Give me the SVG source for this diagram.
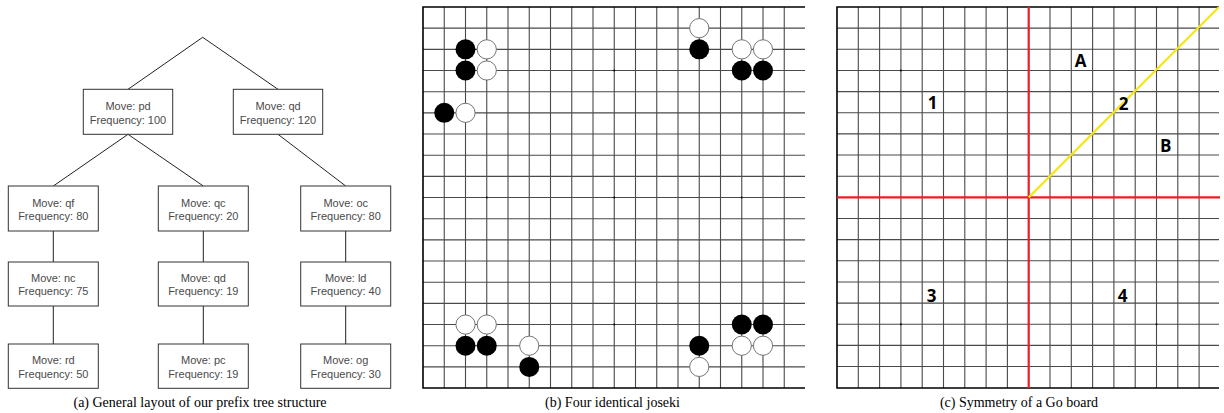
<svg xmlns="http://www.w3.org/2000/svg" width="1224" height="413" viewBox="0 0 1224 413">
<style>
.box{fill:#fff;stroke:#333;stroke-width:1}
.t{font-family:"Liberation Sans",Arial,sans-serif;font-size:11px;fill:#4a4a4a;text-anchor:middle}
.con{stroke:#222;stroke-width:1;fill:none}
.cap{font-family:"Liberation Serif","Times New Roman",serif;font-size:14px;fill:#000;text-anchor:middle}
.grid{stroke:#4a4a4a;stroke-width:1.1;fill:none}
.edge{stroke:#000;stroke-width:1.6;fill:none}
.b{fill:#000}
.w{fill:#fff;stroke:#666;stroke-width:0.9}
.hoshi{fill:#000}
.lbl{font-family:"Open Sans","Liberation Sans",sans-serif;font-weight:bold;font-size:17px;fill:#000;text-anchor:middle}
</style>
<rect width="1224" height="413" fill="#fff"/>

<!-- (a) prefix tree -->
<g id="connectors">
<path class="con" d="M202.7,37.3 L128,89.3 M202.7,37.3 L278,89.3 M128,134.3 L53.3,186 M128,134.3 L203.3,186 M278,134.3 L345.7,186 M53.3,231 V262 M203.3,231 V262 M345.7,231 V262 M53.3,306 V344 M203.3,306 V344 M345.7,306 V344"/>
</g>
<g id="node-pd"><rect class="box" x="83.3" y="89.3" width="89.4" height="45"/><text class="t" x="128" y="110">Move: pd</text><text class="t" x="128" y="123.5">Frequency: 100</text></g>
<g id="node-qd1"><rect class="box" x="233.3" y="89.3" width="89.4" height="45"/><text class="t" x="278" y="110">Move: qd</text><text class="t" x="278" y="123.5">Frequency: 120</text></g>
<g id="node-qf"><rect class="box" x="8.3" y="186" width="90" height="45"/><text class="t" x="53.3" y="206.5">Move: qf</text><text class="t" x="53.3" y="220">Frequency: 80</text></g>
<g id="node-qc"><rect class="box" x="158.3" y="186" width="90" height="45"/><text class="t" x="203.3" y="206.5">Move: qc</text><text class="t" x="203.3" y="220">Frequency: 20</text></g>
<g id="node-oc"><rect class="box" x="300.7" y="186" width="90" height="45"/><text class="t" x="345.7" y="206.5">Move: oc</text><text class="t" x="345.7" y="220">Frequency: 80</text></g>
<g id="node-nc"><rect class="box" x="8.3" y="262" width="90" height="44"/><text class="t" x="53.3" y="281.5">Move: nc</text><text class="t" x="53.3" y="295">Frequency: 75</text></g>
<g id="node-qd2"><rect class="box" x="158.3" y="262" width="90" height="44"/><text class="t" x="203.3" y="281.5">Move: qd</text><text class="t" x="203.3" y="295">Frequency: 19</text></g>
<g id="node-ld"><rect class="box" x="300.7" y="262" width="90" height="44"/><text class="t" x="345.7" y="281.5">Move: ld</text><text class="t" x="345.7" y="295">Frequency: 40</text></g>
<g id="node-rd"><rect class="box" x="8.3" y="344" width="90" height="44.3"/><text class="t" x="53.3" y="363.5">Move: rd</text><text class="t" x="53.3" y="377.5">Frequency: 50</text></g>
<g id="node-pc"><rect class="box" x="158.3" y="344" width="90" height="44.3"/><text class="t" x="203.3" y="363.5">Move: pc</text><text class="t" x="203.3" y="377.5">Frequency: 19</text></g>
<g id="node-og"><rect class="box" x="300.7" y="344" width="90" height="44.3"/><text class="t" x="345.7" y="363.5">Move: og</text><text class="t" x="345.7" y="377.5">Frequency: 30</text></g>
<text class="cap" x="200" y="406.5">(a) General layout of our prefix tree structure</text>

<!-- (b) Four identical joseki -->
<g id="board-b">
<path class="grid" d="M444.25,7V388 M465.5,7V388 M486.75,7V388 M508,7V388 M529.25,7V388 M550.5,7V388 M571.75,7V388 M593,7V388 M614.25,7V388 M635.5,7V388 M656.75,7V388 M678,7V388 M699.25,7V388 M720.5,7V388 M741.75,7V388 M763,7V388 M784.25,7V388
M423,28.17H805 M423,49.34H805 M423,70.51H805 M423,91.68H805 M423,112.85H805 M423,134.02H805 M423,155.19H805 M423,176.36H805 M423,197.53H805 M423,218.7H805 M423,239.87H805 M423,261.04H805 M423,282.21H805 M423,303.38H805 M423,324.55H805 M423,345.72H805 M423,366.89H805"/>
<path class="edge" d="M805,7H423V388H805"/>
<circle class="hoshi" cx="486.75" cy="70.51" r="1"/><circle class="hoshi" cx="614.25" cy="70.51" r="1"/><circle class="hoshi" cx="741.75" cy="70.51" r="1"/>
<circle class="hoshi" cx="486.75" cy="197.53" r="1"/><circle class="hoshi" cx="614.25" cy="197.53" r="1"/><circle class="hoshi" cx="741.75" cy="197.53" r="1"/>
<circle class="hoshi" cx="486.75" cy="324.55" r="1"/><circle class="hoshi" cx="614.25" cy="324.55" r="1"/><circle class="hoshi" cx="741.75" cy="324.55" r="1"/>
<!-- top-left -->
<circle class="b" cx="465.5" cy="49.34" r="10"/><circle class="b" cx="465.5" cy="70.51" r="10"/>
<circle class="w" cx="486.75" cy="49.34" r="9.6"/><circle class="w" cx="486.75" cy="70.51" r="9.6"/>
<circle class="b" cx="444.25" cy="112.85" r="10"/><circle class="w" cx="465.5" cy="112.85" r="9.6"/>
<!-- top-right -->
<circle class="w" cx="699.25" cy="28.17" r="9.6"/><circle class="b" cx="699.25" cy="49.34" r="10"/>
<circle class="w" cx="741.75" cy="49.34" r="9.6"/><circle class="w" cx="763" cy="49.34" r="9.6"/>
<circle class="b" cx="741.75" cy="70.51" r="10"/><circle class="b" cx="763" cy="70.51" r="10"/>
<!-- bottom-left -->
<circle class="w" cx="465.5" cy="324.55" r="9.6"/><circle class="w" cx="486.75" cy="324.55" r="9.6"/>
<circle class="b" cx="465.5" cy="345.72" r="10"/><circle class="b" cx="486.75" cy="345.72" r="10"/>
<circle class="w" cx="529.25" cy="345.72" r="9.6"/><circle class="b" cx="529.25" cy="366.89" r="10"/>
<!-- bottom-right -->
<circle class="b" cx="699.25" cy="345.72" r="10"/><circle class="w" cx="699.25" cy="366.89" r="9.6"/>
<circle class="b" cx="741.75" cy="324.55" r="10"/><circle class="b" cx="763" cy="324.55" r="10"/>
<circle class="w" cx="741.75" cy="345.72" r="9.6"/><circle class="w" cx="763" cy="345.72" r="9.6"/>
</g>
<text class="cap" x="612.5" y="406.5">(b) Four identical joseki</text>

<!-- (c) Symmetry of a Go board -->
<g id="board-c">
<path class="grid" d="M858.3,7V388 M879.6,7V388 M900.9,7V388 M922.2,7V388 M943.5,7V388 M964.8,7V388 M986.1,7V388 M1007.4,7V388 M1050,7V388 M1071.3,7V388 M1092.6,7V388 M1113.9,7V388 M1135.2,7V388 M1156.5,7V388 M1177.8,7V388 M1199.1,7V388
M837,28.15H1219 M837,49.3H1219 M837,70.45H1219 M837,91.6H1219 M837,112.75H1219 M837,133.9H1219 M837,155.05H1219 M837,176.2H1219 M837,218.5H1219 M837,239.65H1219 M837,260.8H1219 M837,281.95H1219 M837,303.1H1219 M837,324.25H1219 M837,345.4H1219 M837,366.55H1219"/>
<path class="edge" d="M1219,7H837V388H1219"/>
<circle class="hoshi" cx="900.9" cy="70.45" r="1"/><circle class="hoshi" cx="1156.5" cy="70.45" r="1"/>
<circle class="hoshi" cx="900.9" cy="324.25" r="1"/><circle class="hoshi" cx="1156.5" cy="324.25" r="1"/>
<path d="M1028.7,7V388 M837,197.35H1220" stroke="#ee1c24" stroke-width="2.2" fill="none"/>
<path d="M1028.7,197.35L1219,7" stroke="#f5e61a" stroke-width="2.2" fill="none"/>
<text class="lbl" x="932.5" y="109">1</text>
<text class="lbl" x="1080.7" y="67">A</text>
<text class="lbl" x="1123.7" y="110">2</text>
<text class="lbl" x="1165.7" y="151.5">B</text>
<text class="lbl" x="931.7" y="301.5">3</text>
<text class="lbl" x="1122.7" y="301.5">4</text>
</g>
<text class="cap" x="1019" y="406.5">(c) Symmetry of a Go board</text>
</svg>
